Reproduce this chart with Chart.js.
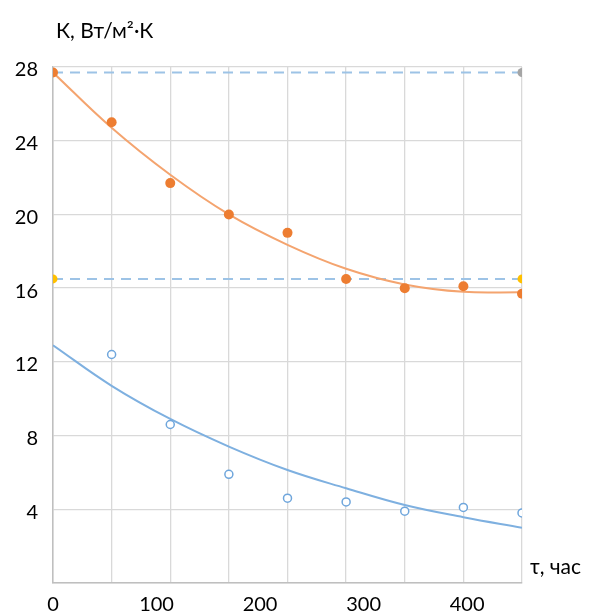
<!DOCTYPE html>
<html>
<head>
<meta charset="utf-8">
<script src="https://cdn.jsdelivr.net/npm/chart.js@4.4.1/dist/chart.umd.min.js"></script>
<style>
  html, body { margin: 0; padding: 0; background: #fff; }
  #wrap { width: 598px; height: 614px; }
</style>
</head>
<body>
<div id="wrap"><canvas id="chart" width="598" height="614"></canvas></div>
<script>
// time, hours
const tau = [0, 50, 100, 150, 200, 250, 300, 350, 400];
// K, W/m2K - measured (orange, filled)
const kOrange = [27.7, 25.0, 21.7, 20.0, 19.0, 16.5, 16.0, 16.1, 15.7];
// orange trend line
const kOrangeTrend = [27.7, 24.7, 22.15, 20.0, 18.35, 17.05, 16.2, 15.8, 15.78];
// blue hollow points (no point at 0)
const tauBlue = [50, 100, 150, 200, 250, 300, 350, 400];
const kBlue = [12.4, 8.6, 5.9, 4.6, 4.4, 3.9, 4.1, 3.8];
// blue trend line
const kBlueTrend = [12.9, 10.7, 8.9, 7.4, 6.13, 5.14, 4.23, 3.57, 3.0];
// dashed reference levels
const levelTop = 27.7;
const levelLow = 16.5;
const tauEnds = [0, 400];
const xTicks = [0, 100, 200, 300, 400];
const yTicks = [4, 8, 12, 16, 20, 24, 28];

const FONT = 'Lato, "Open Sans", sans-serif';

const pts = (xs, ys) => xs.map((x, i) => ({ x: x, y: ys[i] }));

const axisTitles = {
    id: 'axisTitles',
    afterDraw(chart) {
        const ctx = chart.ctx;
        const a = chart.chartArea;
        ctx.save();
        ctx.fillStyle = '#000';
        ctx.font = '21px ' + FONT;
        ctx.textBaseline = 'middle';
        ctx.textAlign = 'left';
        ctx.fillText('К, Вт/м²·К', a.left + 3, 31);
        ctx.fillText('τ, час', a.right + 8, a.bottom - 16);
        ctx.restore();
    }
};

new Chart(document.getElementById('chart'), {
    type: 'scatter',
    data: {
        datasets: [
            {
                label: 'upper level',
                data: pts(tauEnds, [levelTop, levelTop]),
                showLine: true,
                borderColor: '#9dc3e6',
                borderWidth: 2,
                borderDash: [10, 7],
                pointRadius: [0, 4.5],
                pointBackgroundColor: '#a5a5a5',
                pointBorderWidth: 0,
                order: 5
            },
            {
                label: 'lower level',
                data: pts(tauEnds, [levelLow, levelLow]),
                showLine: true,
                borderColor: '#9dc3e6',
                borderWidth: 2,
                borderDash: [10, 7],
                pointRadius: 4.5,
                pointBackgroundColor: '#ffc000',
                pointBorderWidth: 0,
                order: 5
            },
            {
                label: 'orange trend',
                data: pts(tau, kOrangeTrend),
                showLine: true,
                borderColor: '#f4a46f',
                borderWidth: 2,
                tension: 0.4,
                pointRadius: 0,
                order: 3
            },
            {
                label: 'blue trend',
                data: pts(tau, kBlueTrend),
                showLine: true,
                borderColor: '#7eb0e0',
                borderWidth: 2,
                tension: 0.4,
                pointRadius: 0,
                order: 3
            },
            {
                label: 'orange',
                data: pts(tau, kOrange),
                pointRadius: 5,
                pointBackgroundColor: '#ed7d31',
                pointBorderWidth: 0,
                order: 1
            },
            {
                label: 'blue',
                data: pts(tauBlue, kBlue),
                pointRadius: 4,
                pointBackgroundColor: '#fff',
                pointBorderColor: '#6fa6dc',
                pointBorderWidth: 1.5,
                order: 1
            }
        ]
    },
    options: {
        responsive: false,
        animation: false,
        layout: { padding: { top: 67, right: 76, left: 0, bottom: 0 } },
        plugins: {
            legend: { display: false },
            tooltip: { enabled: false }
        },
        scales: {
            x: {
                type: 'linear',
                min: 0,
                max: 400,
                afterBuildTicks: (axis) => { axis.ticks = tau.map(v => ({ value: v })); },
                grid: { color: '#d9d9d9', lineWidth: 1.3, drawTicks: false },
                border: { color: '#bfbfbf', width: 1.5 },
                ticks: { display: false },
                afterFit: (axis) => { axis.height = 0; }
            },
            x2: {
                type: 'linear',
                position: 'bottom',
                min: 0,
                max: 453,
                afterBuildTicks: (axis) => { axis.ticks = xTicks.map(v => ({ value: v })); },
                grid: { display: false, drawTicks: false },
                border: { display: false },
                ticks: { color: '#000', font: { family: FONT, size: 20 }, padding: 10, maxRotation: 0 },
                afterFit: (axis) => { axis.height = 31; }
            },
            y: {
                min: 0,
                max: 28,
                afterBuildTicks: (axis) => { axis.ticks = [0].concat(yTicks).map(v => ({ value: v })); },
                grid: { color: '#d9d9d9', lineWidth: 1.3, drawTicks: false },
                border: { color: '#bfbfbf', width: 1.5 },
                ticks: {
                    color: '#000',
                    font: { family: FONT, size: 20 },
                    padding: 15,
                    labelOffset: 3,
                    callback: (v) => (v === 0 ? '' : v)
                },
                afterFit: (axis) => { axis.width = 53; }
            }
        }
    },
    plugins: [axisTitles]
});
</script>
</body>
</html>
